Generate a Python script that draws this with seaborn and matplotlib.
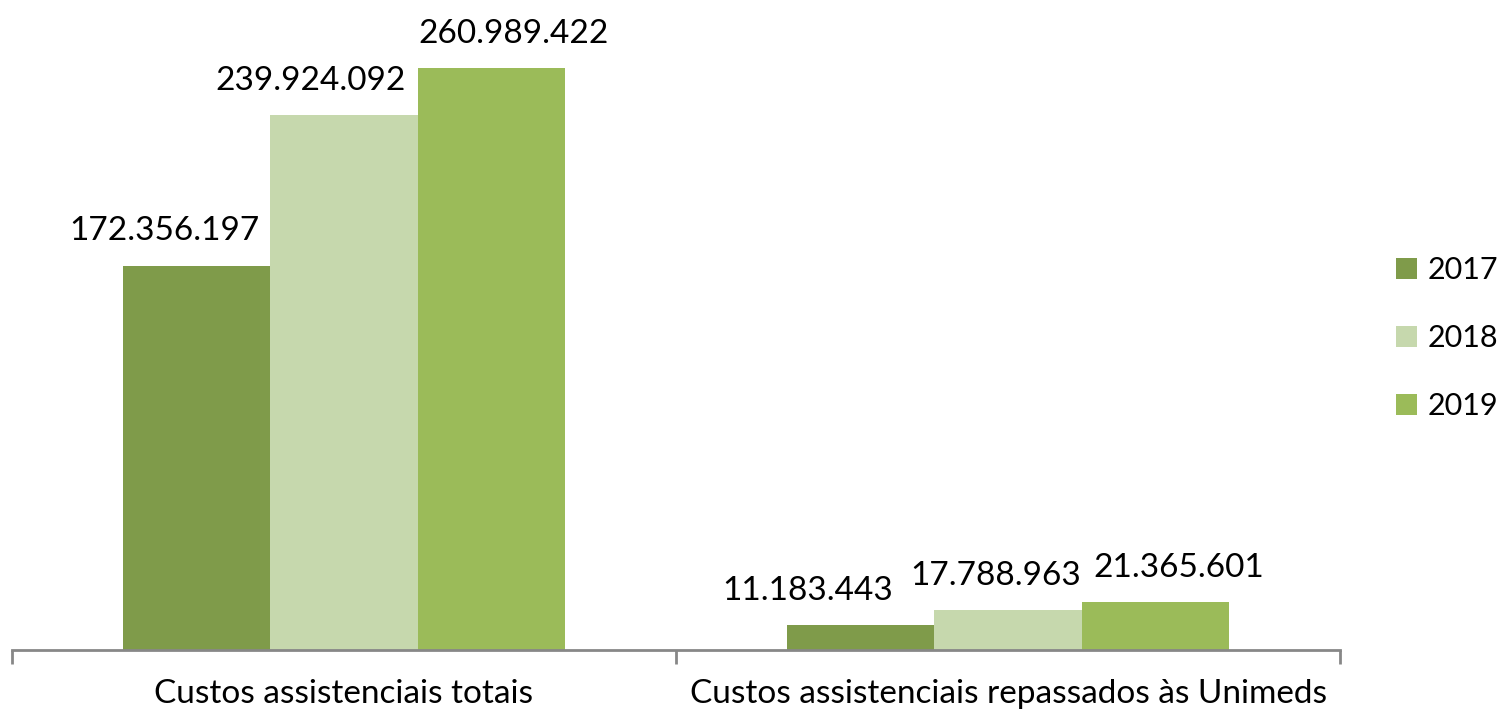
import pandas as pd
import seaborn as sns
import matplotlib.pyplot as plt

categories = ["Custos assistenciais totais", "Custos assistenciais repassados às Unimeds"]
years = ["2017", "2018", "2019"]
values_2017 = [172356197, 11183443]
values_2018 = [239924092, 17788963]
values_2019 = [260989422, 21365601]

colors = ["#7F9B4A", "#C6D8AD", "#9BBB59"]

# horizontal nudges of the data labels (pixels), as in the original layout
label_shift = {
    "2017": [-32, -53],
    "2018": [-33, -12],
    "2019": [22, 23],
}

df = pd.DataFrame({
    "categoria": categories * 3,
    "ano": [y for y in years for _ in categories],
    "valor": values_2017 + values_2018 + values_2019,
})

plt.rcParams['font.family'] = ['Lato', 'DejaVu Sans']

fig = plt.figure(figsize=(15.04, 7.09), dpi=100)
ax = fig.add_axes([12 / 1504, 59 / 709, 1328 / 1504, 650 / 709])

sns.barplot(
    data=df, x="categoria", y="valor", hue="ano",
    palette=colors, width=0.667, gap=0, saturation=1,
    edgecolor="none", linewidth=0, ax=ax,
)

def fmt_br(v):
    return f"{v:,}".replace(",", ".")

px = 72 / fig.dpi
for year, container in zip(years, ax.containers):
    vals = [b.get_height() for b in container]
    anns = ax.bar_label(container, labels=[fmt_br(int(round(v))) for v in vals],
                        padding=14, fontsize=24, color="black")
    for ann, dx in zip(anns, label_shift[year]):
        ann.xyann = (dx * px, ann.xyann[1])

ax.set_xlim(-0.5, 1.5)
ax.set_ylim(0, 291.5e6)
ax.set_xlabel("")
ax.set_ylabel("")
ax.set_yticks([])

for s in ["top", "right", "left"]:
    ax.spines[s].set_visible(False)
ax.spines["bottom"].set_color("#878787")
ax.spines["bottom"].set_linewidth(2)

ax.set_xticks([-0.5, 0.5, 1.5])
ax.set_xticklabels([])
ax.tick_params(axis="x", which="major", length=10, width=2, color="#878787")
ax.set_xticks([0, 1], minor=True)
ax.set_xticklabels(categories, minor=True, fontsize=24)
ax.tick_params(axis="x", which="minor", length=0, pad=21)

handles, labels = ax.get_legend_handles_labels()
ax.get_legend().remove()
fig.legend(handles, labels, loc="upper left", bbox_to_anchor=(1396 / 1504, 1 - 256 / 709),
           frameon=False, fontsize=22, handlelength=0.7, handleheight=0.7,
           handletextpad=0.35, labelspacing=1.31, borderpad=0, borderaxespad=0)

fig.savefig("out.png", dpi=100)
